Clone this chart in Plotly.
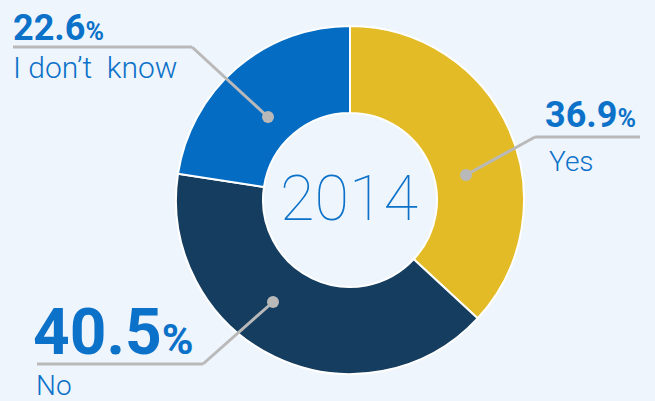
import plotly.graph_objects as go

W, H = 655, 401

answers = ["Yes", "No", "I don\u2019t  know"]
shares = [36.9, 40.5, 22.6]
year_label = "2014"

slice_colors = ["#e3bb27", "#143d5f", "#046cc2"]
text_blue = "#0b71c9"
line_gray = "#b9b9b9"
bg = "#eff5fc"


def px(x):
    return x / W


def py(y):
    return 1 - y / H


fig = go.Figure()
fig.add_trace(
    go.Pie(
        labels=answers,
        values=shares,
        sort=False,
        direction="clockwise",
        rotation=0,
        hole=0.5,
        marker=dict(colors=slice_colors, line=dict(color="white", width=2)),
        textinfo="none",
        hoverinfo="skip",
        domain=dict(x=[px(350 - 174), px(350 + 174)], y=[py(200 + 174), py(200 - 174)]),
        showlegend=False,
    )
)

# label layout: percent xy, font sizes, name xy, leader points (dot first)
layout_info = {
    "Yes": dict(pct=(544, 115), big=36, small=25, name=(548, 161), nsize=28,
                pts=[(466, 175), (535, 137), (640, 137)]),
    "No": dict(pct=(32, 332), big=64, small=43, name=(35, 385), nsize=28,
               pts=[(273, 302), (203, 364), (37, 364)]),
    "I don\u2019t  know": dict(pct=(12, 28), big=36, small=25, name=(12, 67), nsize=30,
                         pts=[(268, 117), (192, 47), (13, 47)]),
}

annotations = []
shapes = []
for name, val in zip(answers, shares):
    info = layout_info[name]
    x, y = info["pct"]
    annotations.append(dict(
        x=px(x), y=py(y), xref="paper", yref="paper", xanchor="left", yanchor="middle",
        showarrow=False, height=int(info["big"] * 0.8), borderpad=0,
        text=f"<b>{val:.1f}</b><span style='font-size:{info['small']}px'><b>%</b></span>",
        font=dict(family="Roboto", size=info["big"], color=text_blue),
    ))
    nx, ny = info["name"]
    annotations.append(dict(
        x=px(nx), y=py(ny), xref="paper", yref="paper", xanchor="left", yanchor="middle",
        showarrow=False, text=name, height=info["nsize"], borderpad=0,
        font=dict(family="Roboto", size=info["nsize"], color=text_blue, weight=300),
    ))
    pts = info["pts"]
    for (x0, y0), (x1, y1) in zip(pts[:-1], pts[1:]):
        shapes.append(dict(type="line", xref="paper", yref="paper",
                           x0=px(x0), y0=py(y0), x1=px(x1), y1=py(y1),
                           line=dict(color=line_gray, width=3)))
    dx, dy = pts[0]
    r = 6
    shapes.append(dict(type="circle", xref="paper", yref="paper",
                       x0=px(dx - r), x1=px(dx + r), y0=py(dy + r), y1=py(dy - r),
                       fillcolor=line_gray, line=dict(width=0)))

annotations.append(dict(
    x=px(349), y=py(198), xref="paper", yref="paper", showarrow=False,
    text=year_label, font=dict(family="Roboto", size=63, color=text_blue, weight=100),
))

fig.update_layout(
    width=W, height=H,
    margin=dict(l=0, r=0, t=0, b=0),
    paper_bgcolor=bg, plot_bgcolor=bg,
    annotations=annotations, shapes=shapes,
)
fig.write_html(
    "out.html",
    config={"displayModeBar": False},
    post_script="document.body.style.margin='0';document.body.style.overflow='hidden';",
)
